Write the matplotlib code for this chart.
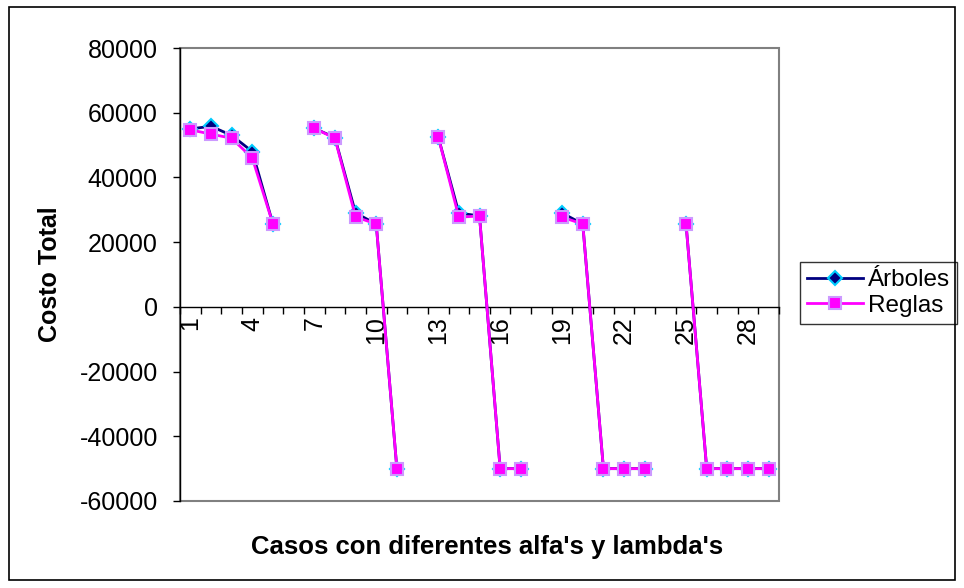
import numpy as np
import matplotlib
matplotlib.use("Agg")
import matplotlib.pyplot as plt
from matplotlib.patches import Rectangle

plt.rcParams['font.family'] = ['Liberation Sans', 'DejaVu Sans']
plt.rcParams['axes.unicode_minus'] = False

nan = np.nan
casos = list(range(1, 30))
arboles = [55000, 55800, 53000, 48000, 25600, nan, 55200, 52300, 29000, 25600,
           -50000, nan, 52600, 29000, 28100, -50000, -50000, nan, 29000, 25600,
           -50000, -50000, -50000, nan, 25600, -50000, -50000, -50000, -50000]
reglas = [54700, 53400, 52100, 46000, 25600, nan, 55200, 52100, 27800, 25600,
          -50000, nan, 52600, 27700, 28100, -50000, -50000, nan, 27700, 25600,
          -50000, -50000, -50000, nan, 25600, -50000, -50000, -50000, -50000]
etiquetas_x = [1, 4, 7, 10, 13, 16, 19, 22, 25, 28]
ticks_y = [-60000, -40000, -20000, 0, 20000, 40000, 60000, 80000]

W, H = 964, 588
fig = plt.figure(figsize=(W / 100, H / 100), dpi=100)
ax = fig.add_axes([180 / W, 1 - 501 / H, 599 / W, 453 / H])

ax.plot(casos, arboles, color='#000080', lw=2, marker='D', markersize=7,
        markerfacecolor='#000080', markeredgecolor='#00CCFF', markeredgewidth=1.5,
        label='Árboles', zorder=3)
ax.plot(casos, reglas, color='#FF00FF', lw=2, marker='s', markersize=9,
        markerfacecolor='#FF00FF', markeredgecolor='#CC99FF', markeredgewidth=1.5,
        label='Reglas', zorder=4)

ax.set_xlim(0.5, 29.5)
ax.set_ylim(-60000, 80000)
ax.set_yticks(ticks_y)
ax.tick_params(axis='y', direction='out', length=5, width=1, pad=11, labelsize=18)

# x axis crosses at zero, tick marks between categories
ax.spines['bottom'].set_position(('data', 0))
ax.spines['bottom'].set_linewidth(1)
ax.spines['left'].set_linewidth(1)
ax.spines['top'].set_visible(False)
ax.spines['right'].set_visible(False)
ax.set_xticks(etiquetas_x)
ax.set_xticklabels([str(v) for v in etiquetas_x], rotation=90, va='top', ha='center')
ax.set_xticks(np.arange(0.5, 30, 1), minor=True)
ax.tick_params(axis='x', which='major', length=0, pad=7, labelsize=18)
ax.tick_params(axis='x', which='minor', direction='out', length=5, width=1)

# gray plot-area frame
ax.add_patch(Rectangle((0, 0), 1, 1, transform=ax.transAxes, fill=False,
                       edgecolor='#808080', lw=1.5, clip_on=False, zorder=0.5))

ax.set_ylabel('Costo Total', fontsize=18, fontweight='bold')
ax.yaxis.set_label_coords((62 - 180) / 599, 0.5)
fig.text(487 / W, 1 - 547 / H, "Casos con diferentes alfa's y lambda's",
         fontsize=18.5, fontweight='bold', ha='center', va='center')

leg = ax.legend(loc='upper left', bbox_to_anchor=(800 / W, 1 - 262 / H),
                bbox_transform=fig.transFigure, borderaxespad=0, fontsize=17.5,
                frameon=True, fancybox=False, edgecolor='black', handlelength=2.3,
                handletextpad=0.2, labelspacing=0.15, borderpad=0.3)
leg.get_frame().set_linewidth(1)

# outer chart border
fig.patches.append(Rectangle((9 / W, 1 - 580 / H), 946 / W, 573 / H,
                             transform=fig.transFigure, fill=False,
                             edgecolor='black', lw=1.2))

fig.savefig('out.png', dpi=100, facecolor='white')
